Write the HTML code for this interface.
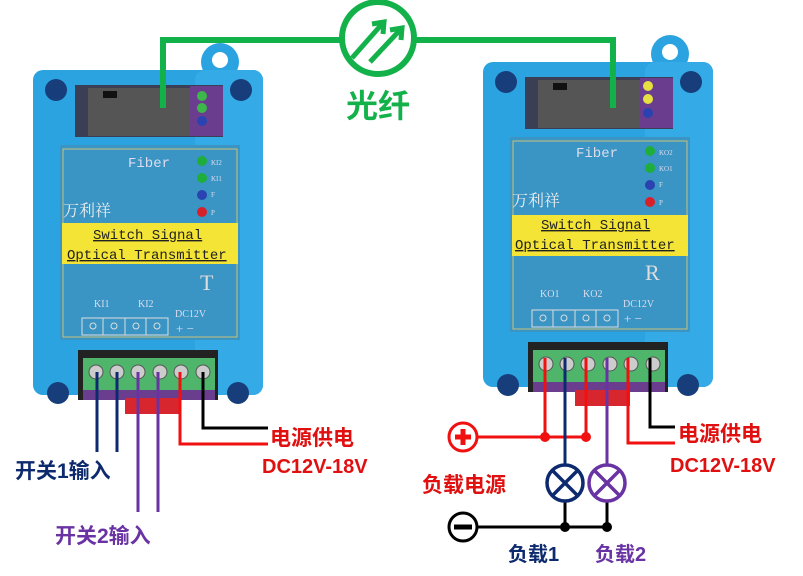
<!DOCTYPE html>
<html><head><meta charset="utf-8"><style>
html,body{margin:0;padding:0;background:#fff;width:803px;height:576px;overflow:hidden}
svg{display:block}
.cn{font-family:"Liberation Sans","Noto Sans CJK SC",sans-serif;font-weight:bold}
.sf{font-family:"Liberation Serif","Noto Serif CJK SC",serif}
.mn{font-family:"Liberation Mono",monospace}
</style></head><body>
<svg width="803" height="576" viewBox="0 0 803 576" xmlns="http://www.w3.org/2000/svg">
<defs>
<g id="dev">
  <circle cx="220" cy="62" r="19" fill="#2ba3e0"/>
  <circle cx="220" cy="60" r="8" fill="#fff"/>
  <rect x="33" y="70" width="230" height="325" rx="10" fill="#2ba3e0"/>
  <rect x="195" y="70" width="68" height="325" rx="10" fill="#34abe6"/>
  <rect x="75" y="85" width="148" height="52" fill="#3a3f55"/>
  <rect x="88" y="88" width="102" height="48" fill="#555"/>
  <rect x="103" y="91" width="14" height="7" fill="#111"/>
  <rect x="190" y="86" width="33" height="50" fill="#6b3d8f"/>
  <circle cx="56" cy="90" r="11" fill="#173e7a"/>
  <circle cx="241" cy="90" r="11" fill="#173e7a"/>
  <circle cx="58" cy="393" r="11" fill="#173e7a"/>
  <circle cx="238" cy="393" r="11" fill="#173e7a"/>
  <rect x="60" y="145" width="180" height="195" fill="#3a94c4"/>
  <rect x="63" y="149" width="174" height="188" fill="none" stroke="#c9c27a" stroke-width="1"/>
  <rect x="62" y="223" width="176" height="41" fill="#f4e436"/>
  <rect x="78" y="350" width="140" height="50" fill="#222"/>
  <rect x="83" y="358" width="132" height="34" fill="#4fb56a"/>
  <rect x="83" y="390" width="132" height="10" fill="#6b3d8f"/>
  <rect x="125" y="398" width="55" height="16" fill="#d8262e"/>
  <g fill="#ccc" stroke="#555" stroke-width="1">
    <circle cx="96" cy="372" r="7"/><circle cx="117" cy="372" r="7"/><circle cx="138" cy="372" r="7"/>
    <circle cx="160" cy="372" r="7"/><circle cx="181" cy="372" r="7"/><circle cx="203" cy="372" r="7"/>
  </g>
  <g fill="none" stroke="#ddd" stroke-width="1">
    <rect x="82" y="318" width="86" height="17"/>
    <line x1="103" y1="318" x2="103" y2="335"/><line x1="125" y1="318" x2="125" y2="335"/><line x1="146" y1="318" x2="146" y2="335"/>
    <circle cx="93" cy="326" r="3"/><circle cx="114" cy="326" r="3"/><circle cx="136" cy="326" r="3"/><circle cx="157" cy="326" r="3"/>
  </g>
</g>
</defs>

<use href="#dev"/>
<use href="#dev" transform="translate(450,-8)"/>

<g class="sf" fill="#dde">
  <text x="128" y="167" font-size="14" class="mn" fill="#dde">Fiber</text>
  <text x="63" y="216" font-size="16" fill="#eee">万利祥</text>
  <text x="93" y="239" font-size="14" class="mn" fill="#222" text-decoration="underline">Switch Signal</text>
  <text x="67" y="259" font-size="14" class="mn" fill="#222" text-decoration="underline">Optical Transmitter</text>
  <text x="200" y="290" font-size="22" fill="#ddd">T</text>
  <text x="94" y="307" font-size="10">KI1</text>
  <text x="138" y="307" font-size="10">KI2</text>
  <text x="175" y="317" font-size="10">DC12V</text>
  <text x="176" y="333" font-size="13">+  −</text>
  <text x="211" y="165" font-size="7">KI2</text><text x="211" y="181" font-size="7">KI1</text>
  <text x="211" y="197" font-size="7">F</text><text x="211" y="215" font-size="7">P</text>
</g>
<circle cx="202" cy="161" r="5" fill="#1fae3a"/><circle cx="202" cy="178" r="5" fill="#1fae3a"/>
<circle cx="202" cy="195" r="5" fill="#2a43b0"/><circle cx="202" cy="212" r="5" fill="#d8202a"/>
<circle cx="202" cy="96" r="5" fill="#3cb84a"/><circle cx="202" cy="108" r="5" fill="#3cb84a"/><circle cx="202" cy="121" r="5" fill="#2a43b0"/>

<g class="sf" fill="#dde">
  <text x="576" y="157" font-size="14" class="mn" fill="#dde">Fiber</text>
  <text x="512" y="206" font-size="16" fill="#eee">万利祥</text>
  <text x="541" y="229" font-size="14" class="mn" fill="#222" text-decoration="underline">Switch Signal</text>
  <text x="515" y="249" font-size="14" class="mn" fill="#222" text-decoration="underline">Optical Transmitter</text>
  <text x="645" y="280" font-size="22" fill="#ddd">R</text>
  <text x="540" y="297" font-size="10">KO1</text>
  <text x="583" y="297" font-size="10">KO2</text>
  <text x="623" y="307" font-size="10">DC12V</text>
  <text x="624" y="323" font-size="13">+  −</text>
  <text x="659" y="155" font-size="7">KO2</text><text x="659" y="171" font-size="7">KO1</text>
  <text x="659" y="187" font-size="7">F</text><text x="659" y="205" font-size="7">P</text>
</g>
<circle cx="650" cy="151" r="5" fill="#1fae3a"/><circle cx="650" cy="168" r="5" fill="#1fae3a"/>
<circle cx="650" cy="185" r="5" fill="#2a43b0"/><circle cx="650" cy="202" r="5" fill="#d8202a"/>
<circle cx="648" cy="86" r="5" fill="#e8e040"/><circle cx="648" cy="99" r="5" fill="#e8e040"/><circle cx="648" cy="113" r="5" fill="#2a43b0"/>

<polyline points="163,108 163,40 613,40 613,108" fill="none" stroke="#13b14a" stroke-width="6"/>
<circle cx="378" cy="38" r="36" fill="#fff" stroke="#13b14a" stroke-width="6"/>
<g stroke="#13b14a" stroke-width="5" fill="none">
  <line x1="352" y1="58" x2="382" y2="24"/><polyline points="372,24 384,22 383,34"/>
  <line x1="370" y1="62" x2="400" y2="30"/><polyline points="390,30 402,28 401,40"/>
</g>
<text x="378" y="117" class="cn" font-size="32" fill="#13b14a" text-anchor="middle">光纤</text>

<g fill="none" stroke-width="3">
  <line x1="97" y1="372" x2="97" y2="452" stroke="#0d2a6e"/>
  <line x1="117" y1="372" x2="117" y2="452" stroke="#0d2a6e"/>
  <line x1="138" y1="372" x2="138" y2="512" stroke="#6a33a3"/>
  <line x1="158" y1="372" x2="158" y2="512" stroke="#6a33a3"/>
  <polyline points="180,372 180,444 268,444" stroke="#f01010"/>
  <polyline points="203,372 203,428 268,428" stroke="#000"/>
</g>
<text x="270" y="445" class="cn" font-size="21" fill="#e01010">电源供电</text>
<text x="262" y="473" class="cn" font-size="20" fill="#e01010">DC12V-18V</text>
<text x="15" y="478" class="cn" font-size="21" fill="#0d2a6e">开关1输入</text>
<text x="55" y="543" class="cn" font-size="21" fill="#6a33a3">开关2输入</text>

<g fill="none" stroke-width="3">
  <line x1="545" y1="358" x2="545" y2="437" stroke="#f01010"/>
  <line x1="586" y1="358" x2="586" y2="437" stroke="#f01010"/>
  <line x1="477" y1="437" x2="586" y2="437" stroke="#f01010"/>
  <line x1="565" y1="358" x2="565" y2="465" stroke="#0d2a6e"/>
  <line x1="607" y1="358" x2="607" y2="465" stroke="#6a33a3"/>
  <polyline points="628,358 628,443 675,443" stroke="#f01010"/>
  <polyline points="650,358 650,427 675,427" stroke="#000"/>
  <line x1="565" y1="501" x2="565" y2="527" stroke="#000"/>
  <line x1="607" y1="501" x2="607" y2="527" stroke="#000"/>
  <line x1="477" y1="527" x2="607" y2="527" stroke="#000"/>
</g>
<circle cx="545" cy="437" r="5" fill="#f01010"/><circle cx="586" cy="437" r="5" fill="#f01010"/>
<circle cx="565" cy="527" r="5" fill="#000"/><circle cx="607" cy="527" r="5" fill="#000"/>
<circle cx="463" cy="437" r="14" fill="#fff" stroke="#f01010" stroke-width="3"/>
<path d="M455 437h16M463 429v16" stroke="#f01010" stroke-width="5"/>
<circle cx="463" cy="527" r="14" fill="#fff" stroke="#000" stroke-width="3"/>
<path d="M454 527h18" stroke="#000" stroke-width="5"/>
<g fill="#fff" stroke-width="3.5">
  <circle cx="565" cy="483" r="18" stroke="#0d2a6e"/>
  <path d="M552 470l26 26M578 470l-26 26" stroke="#0d2a6e"/>
  <circle cx="607" cy="483" r="18" stroke="#6a33a3"/>
  <path d="M594 470l26 26M620 470l-26 26" stroke="#6a33a3"/>
</g>
<text x="422" y="492" class="cn" font-size="21" fill="#e01010">负载电源</text>
<text x="508" y="561" class="cn" font-size="20" fill="#0d2a6e">负载1</text>
<text x="595" y="561" class="cn" font-size="20" fill="#6a33a3">负载2</text>
<text x="678" y="441" class="cn" font-size="21" fill="#e01010">电源供电</text>
<text x="670" y="472" class="cn" font-size="20" fill="#e01010">DC12V-18V</text>
</svg>
</body></html>
